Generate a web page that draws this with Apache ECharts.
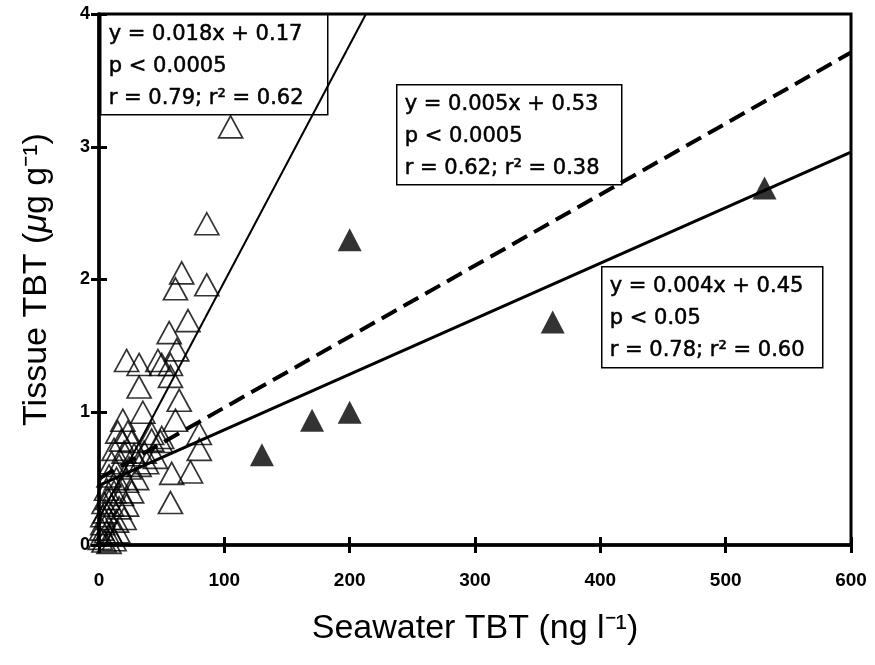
<!DOCTYPE html>
<html>
<head>
<meta charset="utf-8">
<script src="https://cdn.jsdelivr.net/npm/echarts@6/dist/echarts.min.js"></script>
<style>
  html, body { margin: 0; padding: 0; background: #fff; }
  #chart { width: 875px; height: 665px; }
</style>
</head>
<body>
<div id="chart"></div>
<script>
// open triangles - seawater TBT (ng/l) vs tissue TBT (ug/g)
const openPts = [
  [105, 3.15], [86, 2.42], [66, 2.05], [61, 1.93], [86, 1.96], [71, 1.69], [56, 1.6], [62, 1.47],
  [22, 1.39], [32, 1.36], [47, 1.39], [50, 1.36], [57, 1.36], [57, 1.27], [32, 1.19], [64, 1.09],
  [35, 1.0], [61, 0.94], [19, 0.94], [80, 0.84], [42, 0.79], [49, 0.78], [80, 0.72], [58, 0.54],
  [73, 0.55], [57, 0.32],
  [15, 0.85], [23, 0.85], [42, 0.84], [50, 0.81], [18, 0.79], [26, 0.78], [12, 0.72], [20, 0.7],
  [28, 0.68], [36, 0.7], [45, 0.66], [10, 0.62], [16, 0.6], [24, 0.58], [32, 0.6], [38, 0.62],
  [8, 0.52], [14, 0.5], [22, 0.48], [30, 0.5], [6, 0.42], [12, 0.4], [18, 0.38], [26, 0.4],
  [4, 0.32], [10, 0.3], [16, 0.28], [22, 0.3], [3, 0.22], [8, 0.2], [14, 0.18], [20, 0.2],
  [2, 0.12], [6, 0.1], [10, 0.08], [15, 0.1], [1, 0.05], [4, 0.03], [8, 0.02], [12, 0.04],
  [3, 0.16], [5, 0.25], [7, 0.35]
];
// filled triangles
const filledPts = [[130, 0.68], [170, 0.94], [200, 1.0], [200, 2.3], [362, 1.68], [531, 2.69]];

// regression lines (end points)
const fitOpen = [[0, 0.2], [213, 4]];
const fitAll = [[0, 0.5], [600, 3.71]];
const fitFilled = [[0, 0.45], [600, 2.96]];

const xTicks = [0, 600, 100];
const yTicks = [0, 4, 1];

const boxOpen = ['y = 0.018x + 0.17', 'p < 0.0005', 'r = 0.79; r² = 0.62'];
const boxAll = ['y = 0.005x + 0.53', 'p < 0.0005', 'r = 0.62; r² = 0.38'];
const boxFilled = ['y = 0.004x + 0.45', 'p < 0.05', 'r = 0.78; r² = 0.60'];

const chart = echarts.init(document.getElementById('chart'));

const labelFont = {
  color: '#000',
  fontFamily: 'Liberation Sans, Arial, sans-serif',
  fontWeight: 'bold',
  fontSize: 19
};
const titleFont = { fontSize: 34, color: '#000', fontFamily: 'Liberation Sans, Arial, sans-serif' };

function statBox(lines, left, top, w, h) {
  return {
    type: 'group',
    left: left,
    top: top,
    children: [
      { type: 'rect', shape: { x: 0, y: 0, width: w, height: h },
        style: { fill: '#fff', stroke: '#000', lineWidth: 1.5 } },
      { type: 'text', x: 8, y: 4,
        style: { text: lines.join('\n'), fill: '#000', lineHeight: 32,
          stroke: '#000', lineWidth: 0.5,
          font: '21px "DejaVu Sans", sans-serif' } }
    ]
  };
}

const option = {
  backgroundColor: '#fff',
  animation: false,
  grid: {
    left: 99, right: 24, top: 14, bottom: 120,
    show: true, borderColor: '#000', borderWidth: 3, backgroundColor: 'transparent'
  },
  xAxis: [{
    type: 'value', min: xTicks[0], max: xTicks[1], interval: xTicks[2],
    name: 'Seawater TBT (ng l⁻¹)', nameLocation: 'middle', nameGap: 67,
    nameTextStyle: titleFont,
    axisLine: { lineStyle: { color: '#000', width: 3.5 } },
    axisTick: { length: 8, lineStyle: { color: '#000', width: 3 } },
    axisLabel: Object.assign({ margin: 26 }, labelFont),
    splitLine: { show: false }
  }, {
    type: 'value', min: xTicks[0], max: xTicks[1], interval: xTicks[2], position: 'bottom',
    axisLine: { show: false },
    axisTick: { inside: true, length: 8, lineStyle: { color: '#000', width: 3 } },
    axisLabel: { show: false }, splitLine: { show: false }
  }],
  yAxis: [{
    type: 'value', min: yTicks[0], max: yTicks[1], interval: yTicks[2],
    name: 'Tissue TBT ({mu|μ}g g⁻¹)', nameLocation: 'middle', nameGap: 45,
    nameTextStyle: Object.assign({}, titleFont, {
      rich: { mu: Object.assign({}, titleFont, { fontStyle: 'italic' }) } }),
    axisLine: { lineStyle: { color: '#000', width: 3.5 } },
    axisTick: { length: 8, lineStyle: { color: '#000', width: 3 } },
    axisLabel: Object.assign({ margin: 9 }, labelFont, { fontSize: 18 }),
    splitLine: { show: false }
  }, {
    type: 'value', min: yTicks[0], max: yTicks[1], interval: yTicks[2], position: 'left',
    axisLine: { show: false },
    axisTick: { inside: true, length: 8, lineStyle: { color: '#000', width: 3 } },
    axisLabel: { show: false }, splitLine: { show: false }
  }],
  series: [
    {
      type: 'line', data: fitOpen, symbol: 'none', z: 3,
      lineStyle: { color: '#000', width: 2 }
    },
    {
      type: 'line', data: fitAll, symbol: 'none', z: 3,
      lineStyle: { color: '#000', width: 4, type: [17, 8] }
    },
    {
      type: 'line', data: fitFilled, symbol: 'none', z: 3,
      lineStyle: { color: '#000', width: 3 }
    },
    {
      type: 'scatter', data: openPts, symbol: 'triangle', symbolSize: [24, 22], z: 4,
      itemStyle: { color: 'rgba(255,255,255,0)', borderColor: '#000', borderWidth: 1.7 }
    },
    {
      type: 'scatter', data: filledPts, symbol: 'triangle', symbolSize: [24, 23], z: 4,
      itemStyle: { color: '#000' }
    }
  ],
  graphic: [
    statBox(boxOpen, 100, 14, 227, 100),
    statBox(boxAll, 396, 84, 225, 100),
    statBox(boxFilled, 601, 266, 221, 101)
  ]
};

chart.setOption(option);
</script>
</body>
</html>
